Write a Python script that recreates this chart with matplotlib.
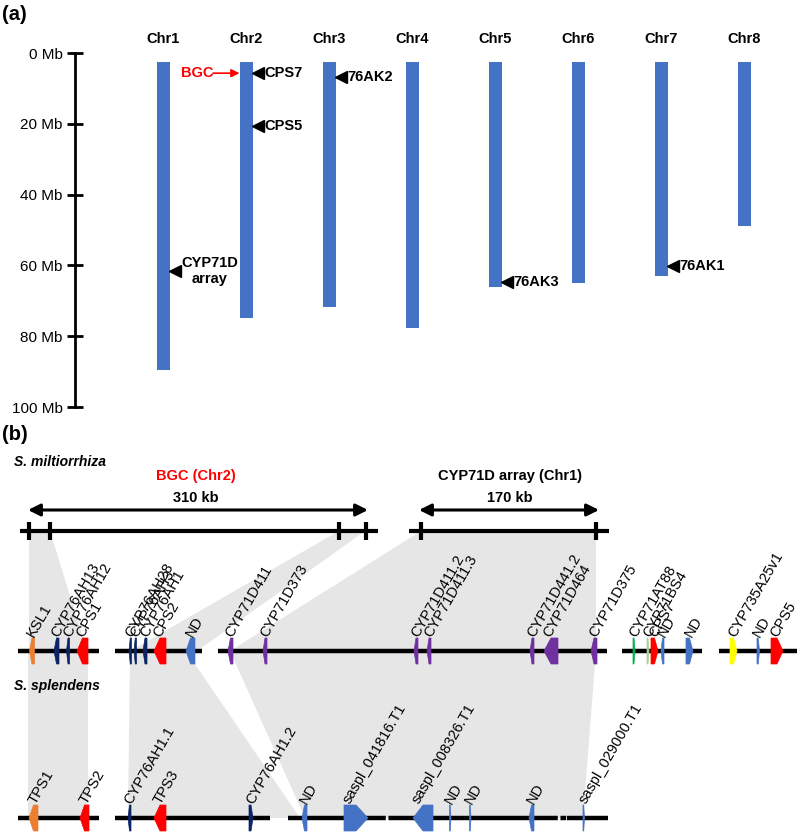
import numpy as np
import matplotlib
matplotlib.use("Agg")
import matplotlib.pyplot as plt

plt.rcParams["font.family"] = ["Liberation Sans", "DejaVu Sans"]

# ---------------- panel (a): chromosomes ----------------
chrom_names = ["Chr1", "Chr2", "Chr3", "Chr4", "Chr5", "Chr6", "Chr7", "Chr8"]
chrom_len_mb = [89.5, 74.9, 71.7, 77.7, 66.0, 65.0, 63.0, 48.9]
mb_ticks = [0, 20, 40, 60, 80, 100]

marker_names = ["CPS7", "CPS5", "76AK2", "CYP71D\narray", "76AK3", "76AK1"]
marker_chrom = [1, 1, 2, 0, 4, 6]
marker_mb = [5.7, 20.6, 6.8, 61.6, 64.7, 60.2]
bgc_mb = 5.7

# ---------------- panel (b): synteny ----------------
# S. miltiorrhiza track
mil_names = ["KSL1", "CYP76AH13", "CYP76AH12", "CPS1",
             "CYP76AH28", "CYP76AH3", "CYP76AH1", "CPS2", "ND",
             "CYP71D411", "CYP71D373", "CYP71D411.2", "CYP71D411.3",
             "CYP71D441.2", "CYP71D464", "CYP71D375",
             "CYP71AT88", "CYP71BS4", "CPS7", "ND", "ND",
             "CYP735A25v1", "ND", "CPS5"]
mil_start = [29.5, 54, 66.5, 77, 129, 134, 143, 154, 186, 228, 263, 414, 427,
             530, 544, 591, 633, 647, 651, 661, 686, 730, 757, 771]
mil_end = [34.5, 59, 69.5, 88, 131.5, 136.5, 147, 166, 195, 233, 267, 418, 431,
           534, 558, 597, 635, 649, 658, 664, 693, 737, 759.5, 783]
mil_strand = [-1, -1, -1, -1, -1, -1, -1, -1, -1, -1, -1, -1, -1,
              -1, -1, -1, 1, 1, 1, -1, 1, 1, 1, 1]
mil_family = ["KSL", "CYP76AH", "CYP76AH", "CPS", "CYP76AH", "CYP76AH", "CYP76AH",
              "CPS", "ND", "CYP71D", "CYP71D", "CYP71D", "CYP71D", "CYP71D",
              "CYP71D", "CYP71D", "CYP71AT", "CYP71BS", "CPS", "ND", "ND",
              "CYP735A", "ND", "CPS"]
mil_segments = [(18, 99), (115, 202), (218, 607), (622, 702), (719, 797)]

# S. splendens track
spl_names = ["TPS1", "TPS2", "CYP76AH1.1", "TPS3", "CYP76AH1.2", "ND",
             "saspl_041816.T1", "saspl_008326.T1", "ND", "ND", "ND",
             "saspl_029000.T1"]
spl_start = [29, 80, 128, 154, 249, 302, 344, 413, 449.5, 469.5, 529, 583]
spl_end = [38, 89, 131, 166, 253, 307, 368, 433, 451, 471, 534, 584.5]
spl_strand = [-1, -1, -1, -1, 1, -1, 1, -1, 1, 1, -1, 1]
spl_family = ["KSL", "CPS", "CYP76AH", "CPS", "CYP76AH", "ND",
              "ND", "ND", "ND", "ND", "ND", "ND"]
spl_segments = [(18, 99), (115, 270), (288, 380), (393, 552), (567, 608)]
spl_breaks = [(380, 393), (552, 567)]

# syntenic blocks: (x0 upper, x1 upper, x0 lower, x1 lower)
ruler_to_mil = [(29, 50, 29, 87), (339, 365, 130, 197), (421, 596, 230, 596)]
mil_to_spl = [(28, 88, 28, 88), (130, 186, 128, 300), (230, 596, 305, 583)]

bgc_ticks = [29, 50, 339, 366]
array_ticks = [421, 596]

family_colors = {"KSL": "#ED7D31", "CPS": "#FF0000", "CYP76AH": "#0B2466",
                 "ND": "#4472C4", "CYP71D": "#7030A0", "CYP71AT": "#00B050",
                 "CYP71BS": "#A9D18E", "CYP735A": "#FFFF00"}

H = 833
fig = plt.figure(figsize=(8, 8.33), dpi=100)

# ---- (a) ----
ax_a = fig.add_axes([0, 1 - 407 / H, 1, (407 - 53) / H])
ax_a.set_xlim(0, 800)
ax_a.set_ylim(100, 0)
ax_a.patch.set_visible(False)
for s in ["top", "right", "bottom"]:
    ax_a.spines[s].set_visible(False)
ax_a.spines["left"].set_position(("data", 75))
ax_a.spines["left"].set_linewidth(2)
ax_a.set_xticks([])
ax_a.set_yticks(mb_ticks)
ax_a.set_yticklabels([f"{t} Mb" for t in mb_ticks])
ax_a.tick_params(axis="y", direction="inout", length=11.5, width=2, labelsize=11, pad=3)

chr_x = np.linspace(163, 744, len(chrom_names))
chr_top = 2.5
ax_a.bar(chr_x, np.array(chrom_len_mb) - chr_top, bottom=chr_top, width=13,
         color="#4472C4")
for x, name in zip(chr_x, chrom_names):
    ax_a.text(x, -3.9, name, ha="center", va="center", fontsize=10.5, fontweight="bold")

for name, ci, mb in zip(marker_names, marker_chrom, marker_mb):
    ax_a.plot(chr_x[ci] + 12, mb, marker="<", markersize=8, color="black", clip_on=False)
    ax_a.text(chr_x[ci] + 18, mb, name, ha="left", va="center", fontsize=10.5,
              fontweight="bold", multialignment="center", linespacing=1.25)

ax_a.text(213, bgc_mb, "BGC", color="#FF0000", ha="right", va="center",
          fontsize=10.5, fontweight="bold")
ax_a.annotate("", xy=(chr_x[1] - 6.5, bgc_mb), xytext=(213, bgc_mb),
              arrowprops=dict(arrowstyle="-|>", color="#FF0000", lw=1.2,
                              mutation_scale=12, shrinkA=0, shrinkB=0))

fig.text(0.002, 1 - 15 / H, "(a)", fontsize=14.5, fontweight="bold", va="center")

# ---- (b) ----
ax_b = fig.add_axes([0, 0, 1, (H - 420) / H])
ax_b.set_xlim(0, 800)
ax_b.set_ylim(H, 420)
ax_b.axis("off")

y_ruler, y_mil, y_spl = 531, 651, 818
gray = "#E6E6E6"
for a0, a1, b0, b1 in ruler_to_mil:
    ax_b.fill([a0, a1, b1, b0], [y_ruler, y_ruler, y_mil, y_mil], color=gray, lw=0, zorder=0)
for a0, a1, b0, b1 in mil_to_spl:
    ax_b.fill([a0, a1, b1, b0], [y_mil, y_mil, y_spl, y_spl], color=gray, lw=0, zorder=0)

ax_b.text(14, 462, "S. miltiorrhiza", fontsize=10, fontweight="bold", style="italic",
          va="center")
ax_b.text(14, 686, "S. splendens", fontsize=10, fontweight="bold", style="italic",
          va="center")
ax_b.text(196, 476, "BGC (Chr2)", color="#FF0000", fontsize=10.5, fontweight="bold",
          ha="center", va="center")
ax_b.text(196, 498, "310 kb", fontsize=10.5, fontweight="bold", ha="center", va="center")
ax_b.text(510, 476, "CYP71D array (Chr1)", fontsize=10.5, fontweight="bold",
          ha="center", va="center")
ax_b.text(510, 498, "170 kb", fontsize=10.5, fontweight="bold", ha="center", va="center")

for x0, x1 in [(28, 368), (419, 599)]:
    ax_b.annotate("", xy=(x1, 510), xytext=(x0, 510),
                  arrowprops=dict(arrowstyle="<|-|>", color="black", lw=2.2,
                                  mutation_scale=18, shrinkA=0, shrinkB=0))

ax_b.plot([20, 378], [y_ruler, y_ruler], color="black", lw=3, solid_capstyle="butt", zorder=2)
ax_b.plot([409, 609], [y_ruler, y_ruler], color="black", lw=3, solid_capstyle="butt", zorder=2)
ax_b.vlines(bgc_ticks + array_ticks, y_ruler - 9, y_ruler + 9, color="black", lw=3, zorder=2)


def draw_track(y, segments, starts, ends, strands, families, names, h=13):
    for s0, s1 in segments:
        ax_b.plot([s0, s1], [y, y], color="black", lw=3.2, solid_capstyle="butt", zorder=2)
    for x0, x1, st, fam, name in zip(starts, ends, strands, families, names):
        w = x1 - x0
        head = 0.5 * w
        if st > 0:
            px = [x0, x1 - head, x1, x1 - head, x0]
        else:
            px = [x1, x0 + head, x0, x0 + head, x1]
        py = [y - h, y - h, y, y + h, y + h]
        c = family_colors[fam]
        ax_b.fill(px, py, color=c, ec=c, lw=0.5, zorder=3)
        ax_b.text(x0 + min(w / 2, 4.5) - 1.5, y - h - 2, name, rotation=60,
                  rotation_mode="anchor", ha="left", va="center", fontsize=10.5, zorder=4)


draw_track(y_mil, mil_segments, mil_start, mil_end, mil_strand, mil_family, mil_names)
draw_track(y_spl, spl_segments, spl_start, spl_end, spl_strand, spl_family, spl_names)
for b0, b1 in spl_breaks:
    ax_b.plot([b0, b1], [y_spl, y_spl], color="black", lw=3.2, linestyle=(0, (1.3, 0.6)),
              dash_capstyle="butt", zorder=2)

fig.text(0.002, 1 - 435 / H, "(b)", fontsize=14.5, fontweight="bold", va="center")

fig.savefig("out.png", dpi=100)
